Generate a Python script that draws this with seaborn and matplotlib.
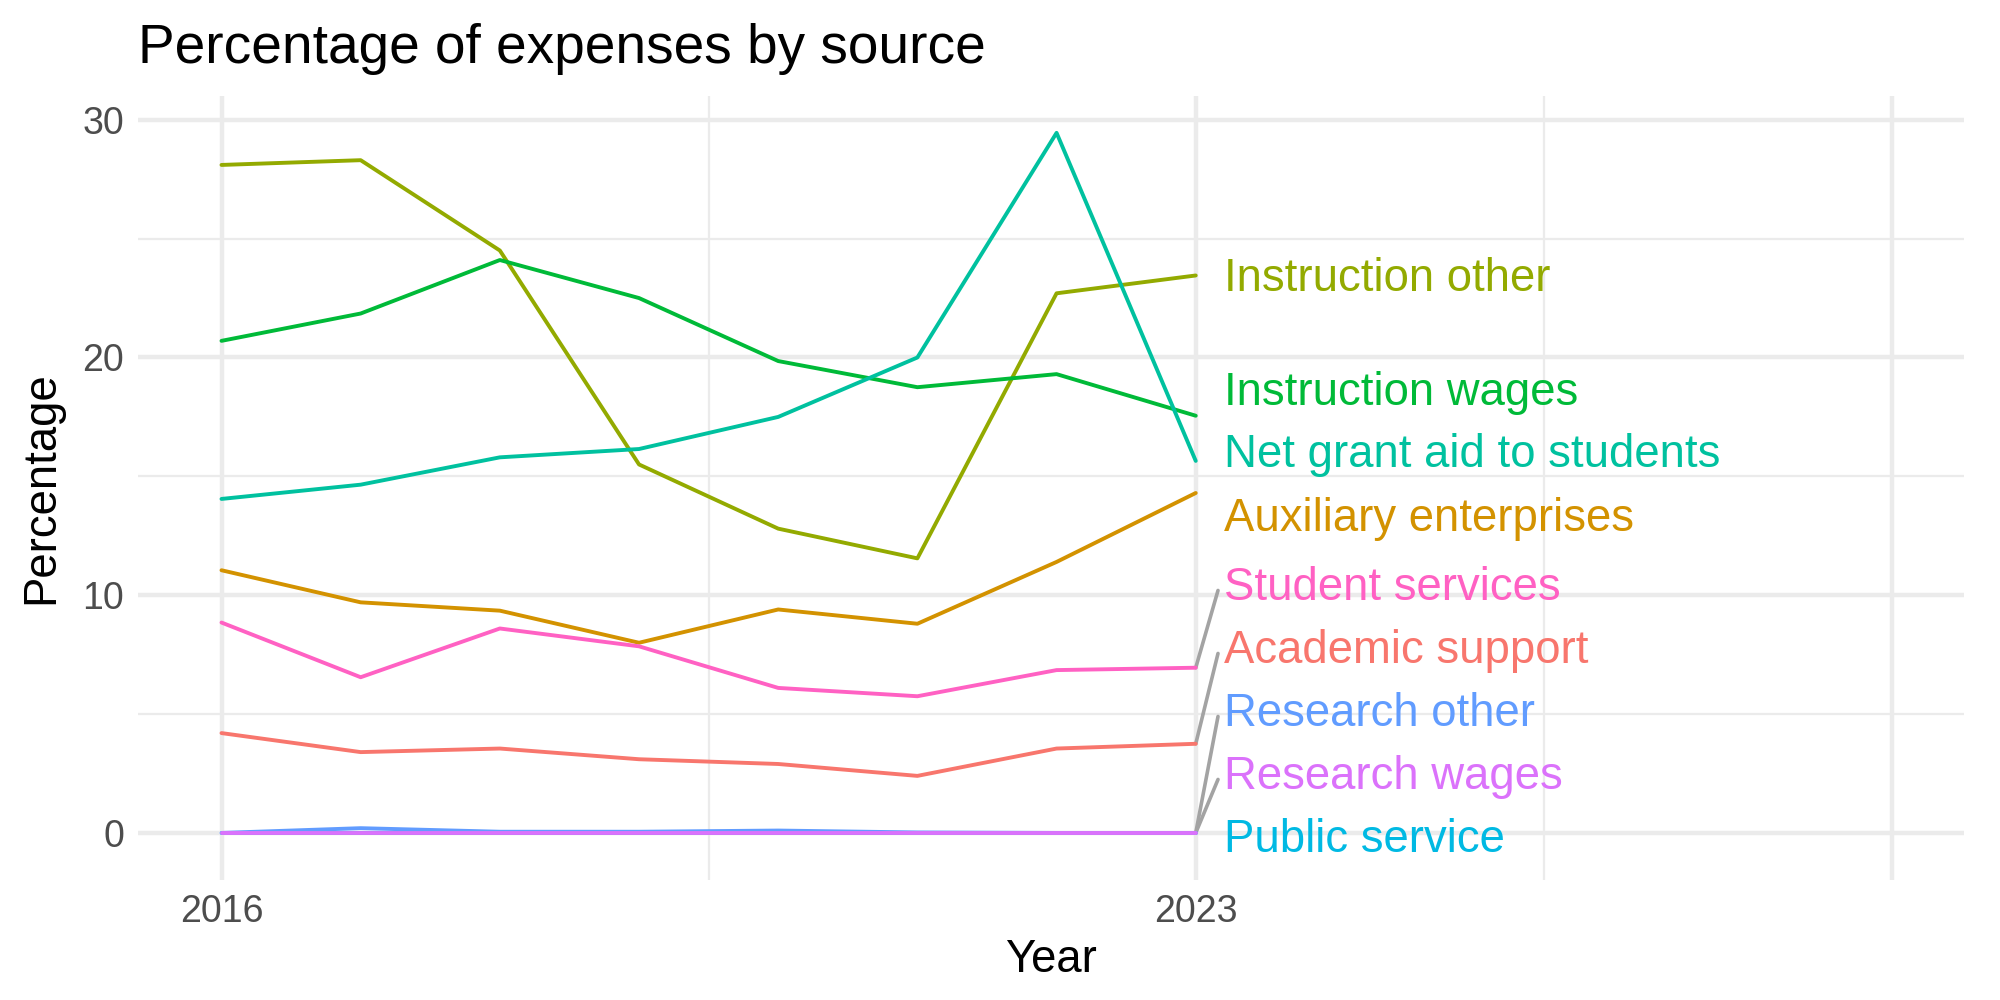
import pandas as pd
import numpy as np
import matplotlib
matplotlib.use('Agg')
import matplotlib.pyplot as plt
import seaborn as sns

# Data
years = [2016, 2017, 2018, 2019, 2020, 2021, 2022, 2023]

academic_support = [4.2, 3.4, 3.55, 3.1, 2.9, 2.4, 3.55, 3.75]
auxiliary_enterprises = [11.05, 9.7, 9.35, 8.0, 9.4, 8.8, 11.4, 14.3]
instruction_other = [28.1, 28.3, 24.5, 15.5, 12.8, 11.55, 22.7, 23.45]
instruction_wages = [20.7, 21.85, 24.1, 22.5, 19.85, 18.75, 19.3, 17.55]
net_grant_aid = [14.05, 14.65, 15.8, 16.15, 17.5, 20.0, 29.45, 15.65]
public_service = [0, 0, 0, 0, 0, 0, 0, 0]
research_other = [0.0, 0.2, 0.05, 0.05, 0.1, 0.02, 0.0, 0.0]
research_wages = [0, 0, 0, 0, 0, 0, 0, 0]
student_services = [8.85, 6.55, 8.6, 7.85, 6.1, 5.75, 6.85, 6.95]

sources = ['Academic support', 'Auxiliary enterprises', 'Instruction other',
           'Instruction wages', 'Net grant aid to students', 'Public service',
           'Research other', 'Research wages', 'Student services']
values = [academic_support, auxiliary_enterprises, instruction_other,
          instruction_wages, net_grant_aid, public_service,
          research_other, research_wages, student_services]
colors = ['#F8766D', '#D39200', '#93AA00', '#00BA38', '#00C19F',
          '#00B9E3', '#619CFF', '#DB72FB', '#FF61C3']

# where the repelled end labels sit (y in data units)
label_y = {'Instruction other': 23.3, 'Instruction wages': 18.5,
           'Net grant aid to students': 15.9, 'Auxiliary enterprises': 13.2,
           'Student services': 10.3, 'Academic support': 7.65,
           'Research other': 5.0, 'Research wages': 2.35, 'Public service': -0.3}

df = pd.DataFrame({
    'Year': np.tile(years, len(sources)),
    'Percentage': np.concatenate(values),
    'Source': np.repeat(sources, len(years)),
})
palette = dict(zip(sources, colors))

sns.set_theme(style='white')
plt.rcParams['font.family'] = ['Liberation Sans', 'DejaVu Sans']
plt.rcParams['text.color'] = 'black'
plt.rcParams['axes.labelcolor'] = 'black'

fig = plt.figure(figsize=(10, 5), dpi=200)
ax = fig.add_axes([0.069, 0.12, 0.913, 0.784])

# grid like theme_minimal
for yv in [5, 15, 25]:
    ax.axhline(yv, color='#EBEBEB', lw=0.8, zorder=0)
for yv in [0, 10, 20, 30]:
    ax.axhline(yv, color='#EBEBEB', lw=1.6, zorder=0)
for xv in [2019.5, 2025.5]:
    ax.axvline(xv, color='#EBEBEB', lw=0.8, zorder=0)
for xv in [2016, 2023, 2028]:
    ax.axvline(xv, color='#EBEBEB', lw=1.6, zorder=0)

sns.lineplot(data=df, x='Year', y='Percentage', hue='Source', palette=palette,
             hue_order=sources, lw=1.4, legend=False, ax=ax, zorder=3)

last = years[-1]
for src, vals, col in zip(sources, values, colors):
    ly = label_y[src]
    if abs(ly - vals[-1]) > 1.5:
        ax.plot([last, last + 0.16], [vals[-1], ly - 0.1], color='#A3A3A3',
                lw=1.3, zorder=2)
    ax.text(last + 0.2, ly, src, color=col, fontsize=16.4, ha='left',
            va='center')

ax.set_xlim(2015.4, 2028.52)
ax.set_ylim(-1.98, 31.0)
ax.set_xticks([2016, 2023])
ax.set_yticks([0, 10, 20, 30])
ax.tick_params(axis='both', labelsize=13.5, labelcolor='#4D4D4D', length=0, pad=5)
for s in ax.spines.values():
    s.set_visible(False)
ax.set_xlabel('Year', fontsize=16.4, labelpad=3)
ax.set_ylabel('Percentage', fontsize=16.4, labelpad=7)
ax.set_title('Percentage of expenses by source', fontsize=19.8, loc='left', pad=12)

fig.savefig('out.png', dpi=200, facecolor='white')
